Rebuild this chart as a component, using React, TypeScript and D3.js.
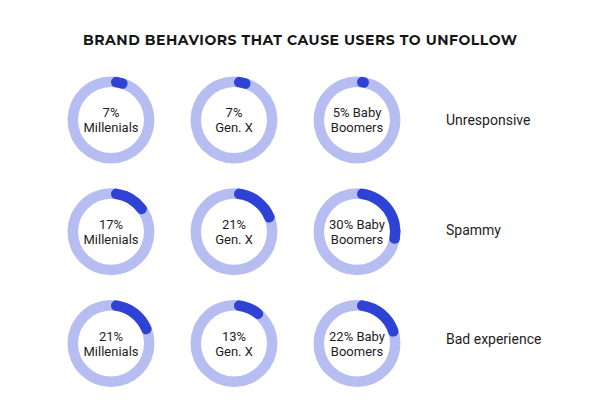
import { useEffect, useRef } from 'react'
import * as d3 from 'd3'

const behaviors = ['Unresponsive', 'Spammy', 'Bad experience']
const generations = ['Millenials', 'Gen. X', 'Baby Boomers']
// percent of each generation that unfollows, per behavior (rows) and generation (cols)
const unresponsive = [7, 7, 5]
const spammy = [17, 21, 30]
const badExperience = [21, 13, 22]
const values = [unresponsive, spammy, badExperience]

const width = 600
const height = 418

export default function App() {
  const svgRef = useRef<SVGSVGElement>(null)

  useEffect(() => {
    if (!svgRef.current) return
    const svg = d3.select(svgRef.current)
    svg.selectAll('*').remove()

    svg.append('rect').attr('width', width).attr('height', height).attr('fill', '#fff')

    svg.append('text')
      .attr('x', 300)
      .attr('y', 45)
      .attr('text-anchor', 'middle')
      .attr('font-family', 'Montserrat, "Open Sans", sans-serif')
      .attr('font-weight', 700)
      .attr('font-size', 14)
      .attr('fill', '#151515')
      .attr('textLength', 434)
      .attr('lengthAdjust', 'spacing')
      .text('BRAND BEHAVIORS THAT CAUSE USERS TO UNFOLLOW')

    const x = d3.scalePoint<string>().domain(generations).range([111, 357])
    const y = d3.scalePoint<string>().domain(behaviors).range([120, 343.5])
    // row labels sit a touch off the ring centres
    const labelY = d3.scalePoint<string>().domain(behaviors).range([125, 344])
    const angle = d3.scaleLinear().domain([0, 100]).range([0, Math.PI * 2])

    const outer = 43.5
    const inner = 33
    const track = d3.arc<any>()
      .innerRadius(inner).outerRadius(outer)
      .startAngle(0).endAngle(Math.PI * 2)
    const progress = d3.arc<any>()
      .innerRadius(inner).outerRadius(outer)
      .cornerRadius((outer - inner) / 2)
      .startAngle(0)
      .endAngle((d: number) => angle(d))

    behaviors.forEach((b, i) => {
      const cy = y(b)!
      generations.forEach((gen, j) => {
        const v = values[i][j]
        const g = svg.append('g').attr('transform', `translate(${x(gen)},${cy})`)
        g.append('path').attr('d', track(null) as string).attr('fill', '#b6bdf1')
        g.append('path').attr('d', progress(v) as string).attr('fill', '#2e43d5')

        // Baby Boomers split across lines differently
        const lines = gen === 'Baby Boomers'
          ? [`${v}% Baby`, 'Boomers']
          : [`${v}%`, gen]
        const t = g.append('text')
          .attr('text-anchor', 'middle')
          .attr('font-family', 'Roboto, sans-serif')
          .attr('font-size', 13)
          .attr('fill', '#1e1e1e')
        lines.forEach((l, k) => {
          t.append('tspan').attr('x', 0).attr('y', -3 + k * 15).text(l)
        })
      })

      svg.append('text')
        .attr('x', 446)
        .attr('y', labelY(b)!)
        .attr('font-family', 'Roboto, sans-serif')
        .attr('font-size', 14)
        .attr('fill', '#1e1e1e')
        .text(b)
    })
  }, [])

  return (
    <svg
      ref={svgRef}
      width={width}
      height={height}
      style={{ position: 'absolute', left: 0, top: 0, display: 'block' }}
    />
  )
}
